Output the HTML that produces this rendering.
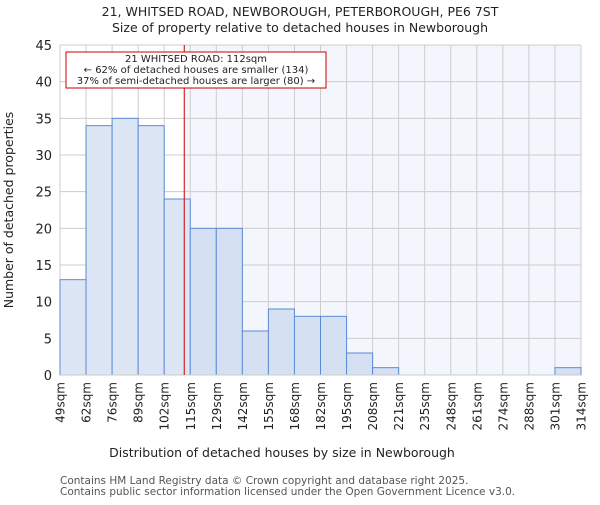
<!DOCTYPE html>
<html><head><meta charset="utf-8"><style>
body{margin:0;background:#fff;font-family:"Liberation Sans","DejaVu Sans",sans-serif}
svg text{font-family:"DejaVu Sans","Liberation Sans",sans-serif}
</style></head><body>
<svg id="c" width="600" height="500" xmlns="http://www.w3.org/2000/svg">
<text x="300" y="16" text-anchor="middle" font-size="12.5" fill="#222">21, WHITSED ROAD, NEWBOROUGH, PETERBOROUGH, PE6 7ST</text>
<text x="300" y="32" text-anchor="middle" font-size="12.5" fill="#222">Size of property relative to detached houses in Newborough</text>
<g id="plot"></g>
<text x="282" y="457" text-anchor="middle" font-size="12.5" fill="#222">Distribution of detached houses by size in Newborough</text>
<text transform="translate(13,210) rotate(-90)" text-anchor="middle" font-size="12.5" fill="#222">Number of detached properties</text>
<text x="60" y="484" font-size="10.5" fill="#555">Contains HM Land Registry data © Crown copyright and database right 2025.</text>
<text x="60" y="495" font-size="10.5" fill="#555">Contains public sector information licensed under the Open Government Licence v3.0.</text>
</svg>
<script>
const binLabels=["49sqm","62sqm","76sqm","89sqm","102sqm","115sqm","129sqm","142sqm","155sqm","168sqm","182sqm","195sqm","208sqm","221sqm","235sqm","248sqm","261sqm","274sqm","288sqm","301sqm","314sqm"];
const binEdges=[49,62,76,89,102,115,129,142,155,168,182,195,208,221,235,248,261,274,288,301,314];
const counts=[13,34,35,34,24,20,20,6,9,8,8,3,1,0,0,0,0,0,0,1];
const yTicks=[0,5,10,15,20,25,30,35,40,45];
const subjectSize=112;

const NS="http://www.w3.org/2000/svg";
const g=document.getElementById('plot');
const L=60,R=581,T=45,B=375,yMax=45;
const n=counts.length,bw=(R-L)/n;
const xi=i=>L+i*bw;
const y=v=>B-(v/yMax)*(B-T);
function xs(v){for(let i=0;i<binEdges.length-1;i++){if(v<=binEdges[i+1])return xi(i)+bw*(v-binEdges[i])/(binEdges[i+1]-binEdges[i]);}return R;}
function mk(t,a){const e=document.createElementNS(NS,t);for(const k in a)e.setAttribute(k,a[k]);g.appendChild(e);return e;}
const sx=xs(subjectSize);
let e;
e=mk('rect',{x:sx,y:T,width:R-sx,height:B-T,fill:'#f3f6fd'});


yTicks.forEach(t=>{
 e=mk('line',{x1:L,x2:R,y1:y(t),y2:y(t),stroke:'#cccccc','stroke-width':1});
 
 
 e=mk('text',{x:L-8,y:y(t)+5,'text-anchor':'end','font-size':13,fill:'#222'});e.textContent=t;
 
 
});
for(let i=0;i<=n;i++){
 e=mk('line',{x1:xi(i),x2:xi(i),y1:T,y2:B,stroke:'#cccccc','stroke-width':1});
 
 
}
counts.forEach((c,i)=>{
 if(c<=0)return;
 const mid=(binEdges[i]+binEdges[i+1])/2;
 e=mk('rect',{x:xi(i),y:y(c),width:bw,height:B-y(c),fill:mid<subjectSize?'#dde6f4':'#d5e0f3',stroke:'#5b8bd6','stroke-width':1});
 
 
});
binLabels.forEach((lb,i)=>{
 const x=xi(i);
 e=mk('text',{transform:`translate(${x+4.5},382) rotate(-90)`,'text-anchor':'end','font-size':12,fill:'#222'});e.textContent=lb;
 
 
});
e=mk('line',{x1:L,x2:R,y1:B,y2:B,stroke:'#cccccc'});


e=mk('line',{x1:sx,x2:sx,y1:T,y2:B,stroke:'#cc0000','stroke-width':1});


e=mk('rect',{x:66,y:52,width:260,height:36,fill:'#fff',stroke:'#cc0000','stroke-width':1});


["21 WHITSED ROAD: 112sqm","← 62% of detached houses are smaller (134)","37% of semi-detached houses are larger (80) →"].forEach((t,k)=>{
 e=mk('text',{x:196,y:62+k*11,'text-anchor':'middle','font-size':10,fill:'#222'});e.textContent=t;
 
 
});
</script>
</body></html>
